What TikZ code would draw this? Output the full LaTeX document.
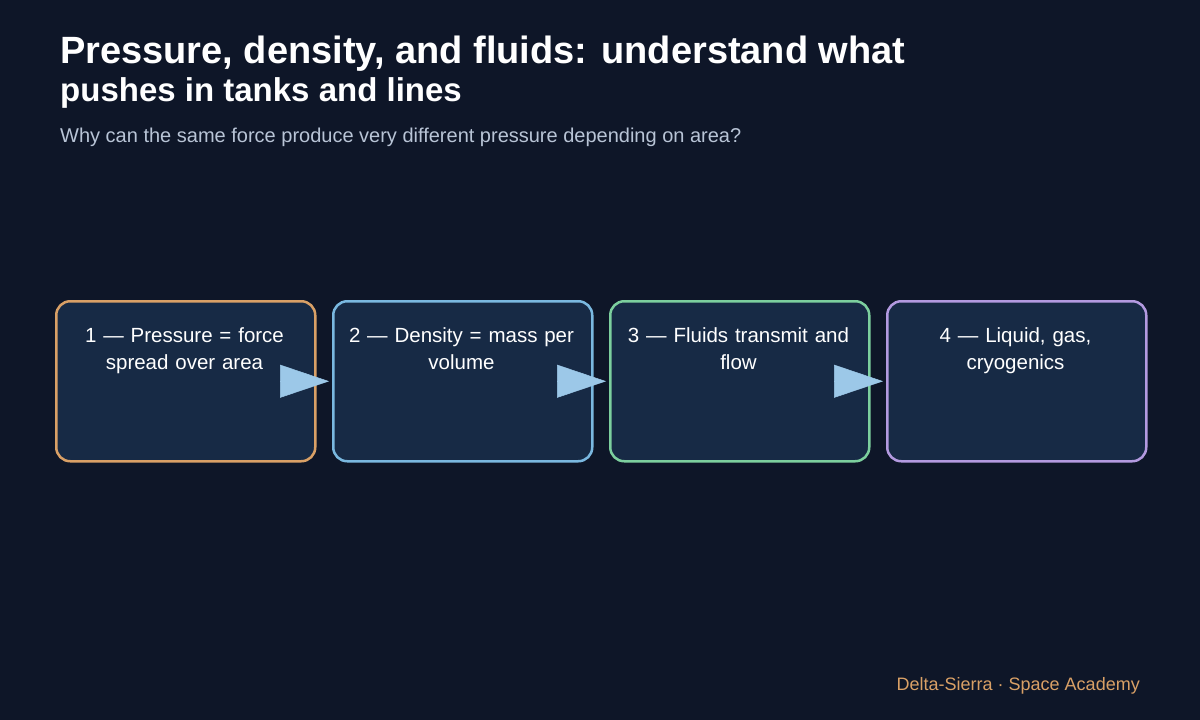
\documentclass[tikz,border=0pt]{standalone}
\usepackage{fontspec}
\setmainfont{Liberation Sans}
\usetikzlibrary{arrows.meta}
\definecolor{bg}{HTML}{0E1628}
\definecolor{boxfill}{HTML}{172A45}
\definecolor{corange}{HTML}{D9A066}
\definecolor{cblue}{HTML}{7AB8E0}
\definecolor{cgreen}{HTML}{7CCF9E}
\definecolor{cpurple}{HTML}{B39AE0}
\definecolor{carrow}{HTML}{9CC8E8}
\definecolor{csub}{HTML}{B8C4D6}
\begin{document}
\begin{tikzpicture}[x=1pt,y=-1pt,
  box/.style={draw,line width=2.5pt,fill=boxfill,rounded corners=14pt,minimum width=259pt,minimum height=160pt,anchor=north west},
  btext/.style={text=white,font=\fontsize{20.5}{27}\selectfont,align=center,text width=250pt,anchor=north,inner sep=0},
  arr/.style={draw=carrow,line width=0.5pt,-{Triangle[length=49pt,width=33pt,fill=carrow]},shorten >=3pt}]
\fill[bg] (0,0) rectangle (1200,720);
\useasboundingbox (0,0) rectangle (1200,720);
\node[anchor=base west,inner sep=0,text=white,font=\bfseries\fontsize{38}{42}\selectfont] (title) at (60,63) {Pressure, density, and fluids: understand what};
\node[anchor=base west,inner sep=0,text=white,font=\bfseries\fontsize{33}{38}\selectfont] (title2) at (60,101) {pushes in tanks and lines};
\node[anchor=base west,inner sep=0,text=csub,font=\fontsize{20}{24}\selectfont] (sub) at (60,142) {Why can the same force produce very different pressure depending on area?};
\node[box,draw=corange] (b1) at (55,300) {};
\node[box,draw=cblue] (b2) at (332,300) {};
\node[box,draw=cgreen] (b3) at (609,300) {};
\node[box,draw=cpurple] (b4) at (886,300) {};
\node[btext] (t1) at (184.5,327) {1 — Pressure = force\\spread over area};
\node[btext] (t2) at (461.5,327) {2 — Density = mass per\\volume};
\node[btext] (t3) at (738.5,327) {3 — Fluids transmit and\\flow};
\node[btext] (t4) at (1015.5,327) {4 — Liquid, gas,\\cryogenics};
\draw[arr] ([xshift=-34pt]b1.east) -- (b2.west);
\draw[arr] ([xshift=-34pt]b2.east) -- (b3.west);
\draw[arr] ([xshift=-34pt]b3.east) -- (b4.west);
\node[anchor=base east,inner sep=0,text=corange,font=\fontsize{18}{22}\selectfont] (foot) at (1140,690) {Delta-Sierra · Space Academy};
\end{tikzpicture}
\end{document}
